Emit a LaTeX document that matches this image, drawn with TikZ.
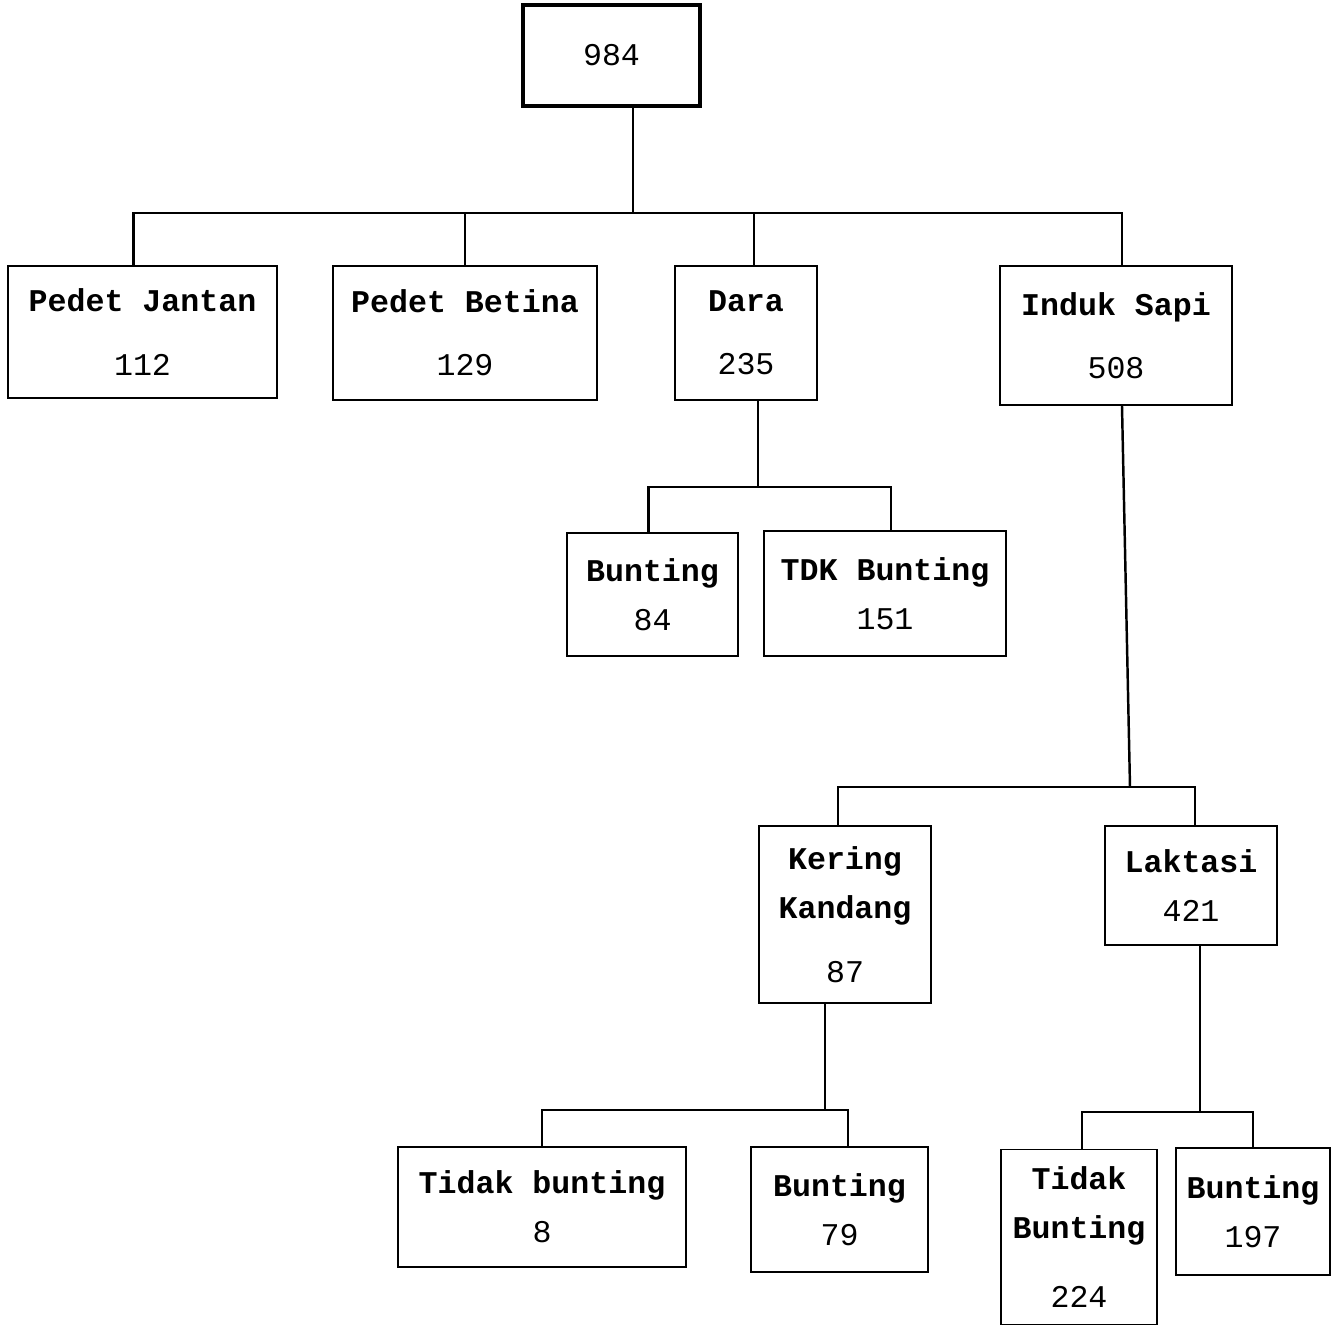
\documentclass[tikz,border=0pt]{standalone}
\usepackage{fontspec}
\setmonofont{Liberation Mono}
\usetikzlibrary{calc}

\begin{document}
\begin{tikzpicture}[x=0.02cm,y=-0.02cm,
    boite/.style={draw,line width=1.1pt,align=center,
      font=\fontsize{18}{36}\selectfont\ttfamily\bfseries},
    trait/.style={line width=1.4pt}]
    \useasboundingbox (0,0) rectangle (1333,1327);

    % sommet
    \node[boite,line width=2.4pt,minimum width=3.54cm,minimum height=2.02cm] (racine) at (611.5,55.5) {\mdseries 984};

    % premier niveau
    \node[boite,minimum width=5.38cm,minimum height=2.64cm] (pj) at (142.5,332) {Pedet Jantan\\\mdseries 112};
    \node[boite,minimum width=5.28cm,minimum height=2.68cm] (pb) at (465,333) {Pedet Betina\\\mdseries 129};
    \node[boite,minimum width=2.84cm,minimum height=2.68cm] (dara) at (746,333) {Dara\\\mdseries 235};
    \node[boite,minimum width=4.64cm,minimum height=2.78cm] (induk) at (1116,335.5) {Induk Sapi\\\mdseries 508};

    % sous Dara
    \node[boite,minimum width=3.42cm,minimum height=2.46cm] (db) at (652.5,594.5) {Bunting\\[-8pt]\mdseries 84};
    \node[boite,minimum width=4.84cm,minimum height=2.50cm] (dtb) at (885,593.5) {TDK Bunting\\[-8pt]\mdseries 151};

    % sous Induk Sapi
    \node[boite,minimum width=3.44cm,minimum height=3.54cm] (kk) at (845,914.5) {Kering\hspace{0.4cm}\\[-8pt]Kandang\\\mdseries 87\hspace{0.2cm}};
    \node[boite,minimum width=3.44cm,minimum height=2.38cm] (lak) at (1191,885.5) {Laktasi\\[-8pt]\mdseries 421};

    % dernier niveau
    \node[boite,minimum width=5.76cm,minimum height=2.40cm] (ktb) at (542,1207) {Tidak bunting\\[-8pt]\mdseries 8};
    \node[boite,minimum width=3.54cm,minimum height=2.50cm] (kb) at (839.5,1209.5) {Bunting\\[-8pt]\mdseries 79};
    \node[boite,minimum width=3.12cm,minimum height=3.50cm] (ltb) at (1079,1237) {Tidak\\[-8pt]Bunting\\[3pt]\mdseries 224};
    \node[boite,minimum width=3.08cm,minimum height=2.54cm] (lb) at (1253,1211.5) {Bunting\\[-8pt]\mdseries 197};

    % barres horizontales
    \coordinate (b1) at (633,213);
    \coordinate (b2) at (758,487);
    \coordinate (b3) at (1130,787);
    \coordinate (b4) at (825,1110);
    \coordinate (b5) at (1200,1112);

    \draw[trait] (racine.south -| b1) -- (b1);
    \draw[trait] ([xshift=-0.18cm]pj.north) |- (b1) -| ([xshift=0.12cm]induk.north);
    \draw[trait] (pb.north) -- (pb.north |- b1);
    \draw[trait] ([xshift=0.16cm]dara.north) -- ([xshift=0.16cm]dara.north |- b1);

    \draw[trait] (dara.south -| b2) -- (b2);
    \draw[trait] ([xshift=-0.08cm]db.north) |- (b2) -| ([xshift=0.12cm]dtb.north);

    \draw[trait] ([xshift=0.12cm]induk.south) -- (b3);
    \draw[trait] ([xshift=-0.14cm]kk.north) |- (b3) -| ([xshift=0.08cm]lak.north);

    \draw[trait] (kk.south -| b4) -- (b4);
    \draw[trait] (ktb.north) |- (b4) -| ([xshift=0.17cm]kb.north);

    \draw[trait] (lak.south -| b5) -- (b5);
    \draw[trait] ([xshift=0.06cm]ltb.north) |- (b5) -| (lb.north);
\end{tikzpicture}
\end{document}
